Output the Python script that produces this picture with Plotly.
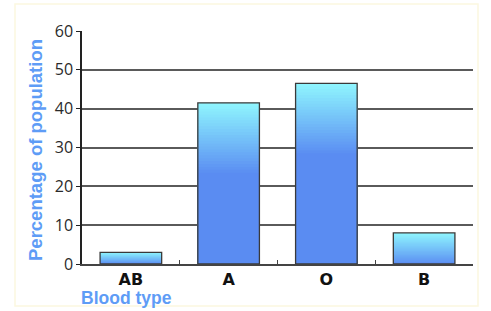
import plotly.graph_objects as go

categories = ["AB", "A", "O", "B"]
percentages = [3, 41.5, 46.5, 8]
y_ticks = [0, 10, 20, 30, 40, 50, 60]

TOP = (142, 244, 254)
BOTTOM = (90, 140, 242)
N = 24
GRAD_UNITS = 18
BAR_W = 0.63

def mix(t):
    return "rgb(%d,%d,%d)" % tuple(round(TOP[i] + (BOTTOM[i] - TOP[i]) * t) for i in range(3))

fig = go.Figure()
for k in range(N + 1):
    ys = []
    for v in percentages:
        g = min(v, GRAD_UNITS)
        ys.append(max(v - g * k / N, 0))
    fig.add_trace(go.Bar(x=categories, y=ys, width=BAR_W,
                         marker=dict(color=mix(k / N), line=dict(width=0)),
                         hoverinfo="skip", showlegend=False))
fig.add_trace(go.Bar(x=categories, y=percentages, width=BAR_W,
                     marker=dict(color="rgba(0,0,0,0)", line=dict(color="#3a3a3a", width=1.3)),
                     showlegend=False))

fig.update_layout(
    width=491, height=311,
    margin=dict(l=82, r=18, t=31, b=47),
    barmode="overlay",
    paper_bgcolor="white", plot_bgcolor="white",
    xaxis=dict(showgrid=False, showline=True, linecolor="#444", linewidth=1.5,
               ticks="inside", tickson="boundaries", ticklen=4, tickcolor="#444",
               tickfont=dict(family="DejaVu Sans", size=16, color="#111", weight="bold"),
               range=[-0.5, 3.5]),
    yaxis=dict(range=[0, 60], tickvals=y_ticks, showgrid=True, gridcolor="#5a5a5a", gridwidth=1.5,
               showline=True, linecolor="#222", linewidth=1.5, ticks="outside", ticklen=4,
               tickcolor="#222", zeroline=False,
               tickfont=dict(family="Open Sans", size=16, color="#2a2a2a")),
    font=dict(family="Liberation Sans"),
    shapes=[dict(type="rect", xref="paper", yref="paper",
                 x0=(15 - 82) / 391, x1=(478 - 82) / 391,
                 y0=(264 - 306) / 233, y1=(264 - 4) / 233,
                 line=dict(color="#fcf8e0", width=1.5), layer="below")],
    annotations=[
        dict(text="<b>Percentage of population</b>", xref="paper", yref="paper",
             x=(35 - 82) / 391, y=(264 - 150) / 233, textangle=-90, showarrow=False,
             xanchor="center", yanchor="middle",
             font=dict(family="Liberation Sans", size=18.5, color="#5e9cf6")),
        dict(text="<b>Blood type</b>", xref="paper", yref="paper",
             x=(126 - 82) / 391, y=(264 - 298) / 233, showarrow=False,
             xanchor="center", yanchor="middle",
             font=dict(family="Liberation Sans", size=17.5, color="#5e9cf6")),
    ],
)

fig.write_html("out.html", config={"displayModeBar": False},
               post_script="document.body.style.margin='0';document.body.style.padding='0';")
